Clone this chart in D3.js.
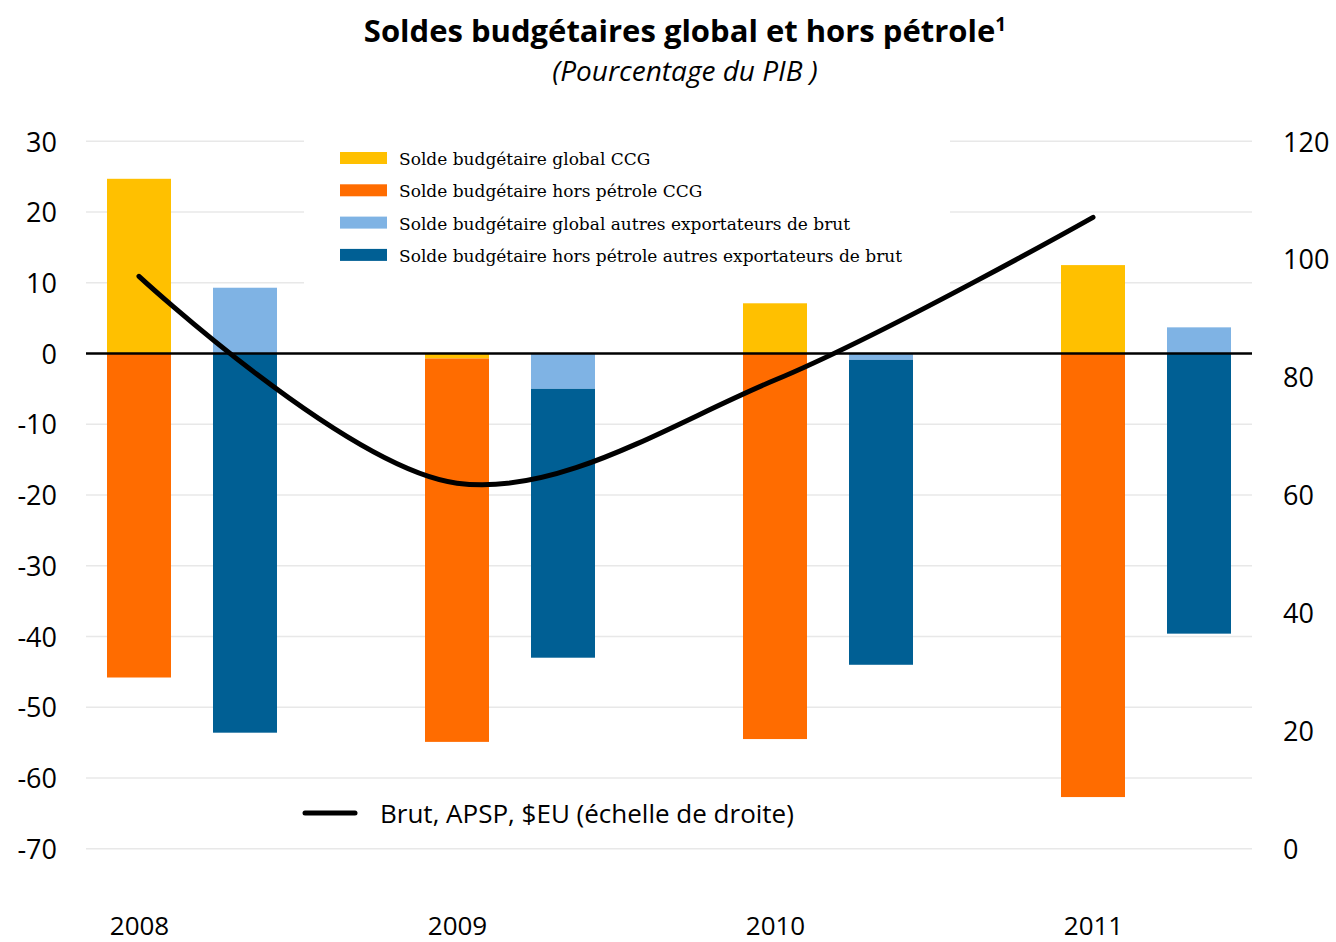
<!DOCTYPE html>
<html>
<head>
<meta charset="utf-8">
<script src="https://cdn.jsdelivr.net/npm/d3@7"></script>
<style>
  body { margin: 0; background: #fff; }
  text { font-family: "Open Sans", sans-serif; fill: #000; }
</style>
</head>
<body>
<div id="chart"></div>
<script>
// data
var years = ['2008', '2009', '2010', '2011'];
var ccgGlobal = [24.7, -0.7, 7.1, 12.5];
var ccgHorsPetrole = [-45.8, -54.2, -54.5, -62.7];
var autresGlobal = [9.3, -5.0, -0.9, 3.7];
var autresHorsPetrole = [-53.6, -38.0, -43.1, -39.6];
var brut = [97.1, 62.0, 79.5, 107.1];
var leftTicks = [30, 20, 10, 0, -10, -20, -30, -40, -50, -60, -70];
var rightTicks = [120, 100, 80, 60, 40, 20, 0];

var legendItems = [
  { label: 'Solde budgétaire global CCG', color: '#FFC000' },
  { label: 'Solde budgétaire hors pétrole CCG', color: '#FF6C00' },
  { label: 'Solde budgétaire global autres exportateurs de brut', color: '#7FB3E4' },
  { label: 'Solde budgétaire hors pétrole autres exportateurs de brut', color: '#005F94' }
];

var width = 1336, height = 942;
var plotLeft = 86, plotRight = 1252, plotTop = 141.3, plotBottom = 848.7;

var svg = d3.select('#chart').append('svg')
  .attr('width', width).attr('height', height);

var y = d3.scaleLinear().domain([-70, 30]).range([plotBottom, plotTop]);
var y2 = d3.scaleLinear().domain([0, 120]).range([plotBottom, plotTop]);
var x = d3.scalePoint().domain(years).range([139, 1093]);
var barW = 64, groupOffset = 106;

// gridlines
svg.append('g').selectAll('line')
  .data(leftTicks.filter(function(d) { return d !== 0; }))
  .enter().append('line')
  .attr('x1', plotLeft).attr('x2', plotRight)
  .attr('y1', function(d) { return y(d); })
  .attr('y2', function(d) { return y(d); })
  .attr('stroke', '#e8e8e8').attr('stroke-width', 1.5);

// white box behind the legend hides the grid
svg.append('rect')
  .attr('x', 304).attr('y', 128).attr('width', 646).attr('height', 162)
  .attr('fill', '#fff');

// stacked bars (diverging)
var stack = d3.stack().keys(['a', 'b']).offset(d3.stackOffsetDiverging);
function stackRows(a, b) {
  return years.map(function(yr, i) { return { year: yr, a: a[i], b: b[i] }; });
}
var groups = [
  { offset: 0, rows: stackRows(ccgGlobal, ccgHorsPetrole), colors: [legendItems[0].color, legendItems[1].color] },
  { offset: groupOffset, rows: stackRows(autresGlobal, autresHorsPetrole), colors: [legendItems[2].color, legendItems[3].color] }
];

groups.forEach(function(g) {
  var series = stack(g.rows);
  svg.append('g').selectAll('g')
    .data(series).enter().append('g')
    .attr('fill', function(d, i) { return g.colors[i]; })
    .selectAll('rect')
    .data(function(d) { return d; })
    .enter().append('rect')
    .attr('x', function(d) { return x(d.data.year) + g.offset - barW / 2; })
    .attr('width', barW)
    .attr('y', function(d) { return y(Math.max(d[0], d[1])); })
    .attr('height', function(d) { return Math.abs(y(d[0]) - y(d[1])); });
});

// zero line
svg.append('line')
  .attr('x1', plotLeft).attr('x2', plotRight)
  .attr('y1', y(0)).attr('y2', y(0))
  .attr('stroke', '#000').attr('stroke-width', 2.5);

// oil price curve
var line = d3.line()
  .x(function(d, i) { return x(years[i]); })
  .y(function(d) { return y2(d); })
  .curve(d3.curveCatmullRom.alpha(0.5));

svg.append('path')
  .datum(brut)
  .attr('d', line)
  .attr('fill', 'none')
  .attr('stroke', '#000')
  .attr('stroke-width', 5)
  .attr('stroke-linecap', 'round');

// axes (plain hyphen for negatives, like the original)
var plain = function(d) { return String(d); };

var yAxisL = d3.axisLeft(y).tickValues(leftTicks).tickFormat(plain).tickSize(0).tickPadding(0);
svg.append('g')
  .attr('transform', 'translate(57,0)')
  .call(yAxisL)
  .call(function(g) { g.select('.domain').remove(); })
  .selectAll('text')
  .style('font-size', '27px').style('font-family', '"Open Sans", sans-serif')
  .attr('dy', '0.36em');

var yAxisR = d3.axisRight(y2).tickValues(rightTicks).tickFormat(plain).tickSize(0).tickPadding(0);
svg.append('g')
  .attr('transform', 'translate(1283,0)')
  .call(yAxisR)
  .call(function(g) { g.select('.domain').remove(); })
  .selectAll('text')
  .style('font-size', '27px').style('font-family', '"Open Sans", sans-serif')
  .attr('dy', '0.36em');

var xAxis = d3.axisBottom(x).tickSize(0).tickPadding(0);
svg.append('g')
  .attr('transform', 'translate(0,0)')
  .call(xAxis)
  .call(function(g) { g.select('.domain').remove(); })
  .selectAll('text')
  .attr('y', 935).attr('dy', null)
  .style('font-size', '26px').style('font-family', '"Open Sans", sans-serif');

// title
var title = svg.append('text')
  .attr('x', 685).attr('y', 42)
  .attr('text-anchor', 'middle')
  .style('font-size', '31px').style('font-weight', 'bold');
title.append('tspan').text('Soldes budgétaires global et hors pétrole');
title.append('tspan').text('1').attr('dy', -11).style('font-size', '19px');

svg.append('text')
  .attr('x', 685).attr('y', 81)
  .attr('text-anchor', 'middle')
  .style('font-size', '28px').style('font-style', 'italic')
  .text('(Pourcentage du PIB )');

// legend for bars
var leg = svg.append('g').selectAll('g')
  .data(legendItems).enter().append('g')
  .attr('transform', function(d, i) { return 'translate(340,' + (158 + i * 32.3) + ')'; });
leg.append('rect')
  .attr('x', 0).attr('y', -6).attr('width', 47).attr('height', 12)
  .attr('fill', function(d) { return d.color; });
leg.append('text')
  .attr('x', 59).attr('y', 7)
  .style('font-family', '"DejaVu Serif", serif')
  .style('font-size', '17px')
  .text(function(d) { return d.label; });

// legend for the curve
svg.append('line')
  .attr('x1', 305).attr('x2', 355).attr('y1', 813).attr('y2', 813)
  .attr('stroke', '#000').attr('stroke-width', 5).attr('stroke-linecap', 'round');
svg.append('text')
  .attr('x', 380).attr('y', 823)
  .style('font-size', '26px')
  .text('Brut, APSP, $EU (échelle de droite)');
</script>
</body>
</html>
